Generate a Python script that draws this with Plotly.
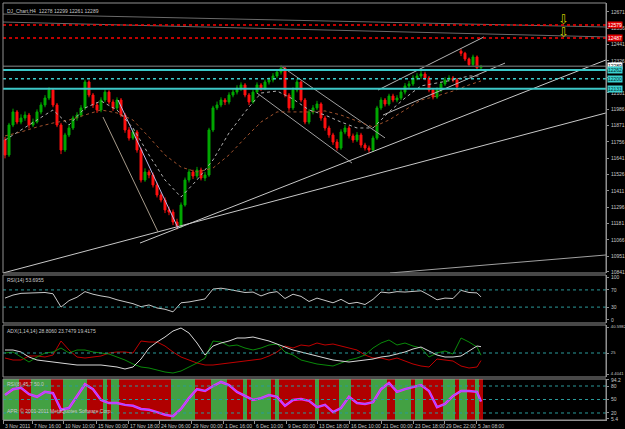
import plotly.graph_objects as go

# ---------------- data ----------------
open_ = [11769, 11664, 11875, 11967, 11896, 11924, 11945, 11875, 11896, 11967,
         12016, 12065, 12121, 12016, 11875, 11699, 11805, 11854, 11924, 11945,
         11995, 12178, 12086, 12016, 11981, 12051, 12107, 12037, 11995, 12051,
         11945, 11840, 11783, 11826, 11699, 11488, 11544, 11523, 11453, 11382,
         11347, 11277, 11262, 11192, 11164, 11312, 11488, 11544, 11516, 11558,
         11502, 11523, 11840, 11995, 12016, 12051, 12037, 12086, 12107, 12135,
         12157, 12086, 12037, 12107, 12157, 12135, 12178, 12192, 12220, 12248,
         12276, 12086, 11995, 12121, 12178, 12051, 11896, 11967, 11995, 12023,
         11924, 11854, 11805, 11755, 11713, 11826, 11854, 11798, 11769, 11805,
         11734, 11713, 11699, 11783, 11995, 12051, 12023, 12079, 12051, 12065,
         12107, 12150, 12164, 12206, 12220, 12234, 12206, 12121, 12072, 12121,
         12164, 12192, 12206, 12192, 12395, 12380, 12340, 12300, 12354, 12278]
high = [11790, 11890, 11990, 11980, 11950, 11970, 11960, 11920, 11985, 12035,
        12085, 12140, 12135, 12030, 11890, 11820, 11875, 11940, 11965, 12015,
        12195, 12190, 12100, 12035, 12070, 12125, 12120, 12055, 12070, 12065,
        11960, 11860, 11845, 11840, 11715, 11570, 11560, 11540, 11470, 11400,
        11365, 11300, 11280, 11215, 11330, 11505, 11565, 11560, 11580, 11575,
        11545, 11855, 12010, 12040, 12070, 12065, 12105, 12125, 12155, 12175,
        12170, 12100, 12125, 12175, 12170, 12195, 12210, 12240, 12265, 12295,
        12290, 12100, 12140, 12200, 12190, 12065, 11985, 12015, 12045, 12035,
        11940, 11870, 11820, 11775, 11845, 11875, 11870, 11815, 11825, 11820,
        11750, 11730, 11800, 12010, 12070, 12065, 12095, 12095, 12085, 12125,
        12170, 12185, 12225, 12240, 12255, 12250, 12220, 12135, 12140, 12180,
        12210, 12225, 12220, 12205, 12410, 12390, 12350, 12370, 12365, 12298]
low = [11640, 11650, 11860, 11880, 11880, 11905, 11850, 11860, 11885, 11950,
       12000, 12050, 12000, 11860, 11670, 11685, 11790, 11840, 11905, 11930,
       11980, 12070, 11995, 11960, 11965, 12035, 12020, 11975, 11980, 11930,
       11820, 11765, 11770, 11680, 11470, 11475, 11500, 11435, 11365, 11330,
       11255, 11240, 11170, 11140, 11150, 11300, 11470, 11495, 11500, 11485,
       11480, 11510, 11825, 11980, 12000, 12015, 12020, 12070, 12090, 12115,
       12070, 12015, 12025, 12095, 12115, 12120, 12160, 12175, 12205, 12230,
       12070, 11975, 11980, 12105, 12035, 11880, 11880, 11950, 11980, 11905,
       11835, 11785, 11735, 11695, 11700, 11810, 11780, 11750, 11755, 11715,
       11695, 11680, 11685, 11770, 11980, 12005, 12010, 12035, 12035, 12050,
       12090, 12135, 12150, 12190, 12200, 12190, 12105, 12055, 12060, 12105,
       12150, 12180, 12175, 12125, 12360, 12325, 12285, 12290, 12265, 12261]
close = [11664, 11875, 11967, 11896, 11924, 11945, 11875, 11896, 11967, 12016,
         12065, 12121, 12016, 11875, 11699, 11805, 11854, 11924, 11945, 11995,
         12178, 12086, 12016, 11981, 12051, 12107, 12037, 11995, 12051, 11945,
         11840, 11783, 11826, 11699, 11488, 11544, 11523, 11453, 11382, 11347,
         11277, 11262, 11192, 11164, 11312, 11488, 11544, 11516, 11558, 11502,
         11523, 11840, 11995, 12016, 12051, 12037, 12086, 12107, 12135, 12157,
         12086, 12037, 12107, 12157, 12135, 12178, 12192, 12220, 12248, 12276,
         12086, 11995, 12121, 12178, 12051, 11896, 11967, 11995, 12023, 11924,
         11854, 11805, 11755, 11713, 11826, 11854, 11798, 11769, 11805, 11734,
         11713, 11699, 11783, 11995, 12051, 12023, 12079, 12051, 12065, 12107,
         12150, 12164, 12206, 12220, 12234, 12206, 12121, 12072, 12121, 12164,
         12192, 12206, 12192, 12143, 12380, 12340, 12300, 12354, 12278, 12289]

# moving averages (read every 4 bars + last bar)
ma_fast = [11769, 11840, 11910, 11981, 11875, 11995, 12044, 11981, 11854, 11664,
           11488, 11368, 11488, 11629, 11819, 11967, 12100, 12114, 12058, 11981,
           11945, 11896, 11854, 11854, 11967, 12065, 12150, 12171, 12192, 12220, 12220]
ma_slow = [11798, 11826, 11861, 11889, 11910, 11945, 11981, 11960, 11910, 11790,
           11664, 11579, 11544, 11572, 11664, 11783, 11896, 11967, 11967, 11967,
           11974, 11945, 11903, 11861, 11910, 11981, 12051, 12079, 12114, 12157, 12185]

# indicators (read every 2 bars + last bar)
rsi = [51, 58, 62, 63, 63, 64, 61, 30, 45, 53, 66, 60, 56, 53, 47, 43, 38, 31, 35, 28,
       25, 19, 40, 42, 46, 49, 72, 74, 71, 67, 64, 65, 56, 63, 66, 50, 60, 55, 43, 51,
       45, 40, 48, 38, 41, 36, 48, 65, 63, 66, 65, 67, 68, 58, 47, 51, 50, 69, 64, 63, 53.7]
adx_main = [26.8, 26.8, 25.6, 22.6, 20.8, 20.2, 19.6, 19.0, 18.4, 17.8,
            17.8, 17.8, 17.8, 17.2, 16.6, 15.4, 16.6, 21.4, 28.0, 31.6,
            34.6, 38.2, 40.0, 37.0, 31.0, 23.8, 29.2, 31.0, 32.2, 34.0,
            34.0, 34.6, 33.4, 32.2, 30.4, 28.6, 26.8, 25.6, 24.4, 23.2,
            22.0, 20.8, 20.2, 19.6, 20.2, 20.8, 21.4, 22.6, 23.2, 24.4,
            25.6, 27.4, 28.6, 26.2, 23.8, 22.6, 22.6, 23.2, 26.2, 29.2, 28.8]
adx_plus = [25.0, 25.6, 22.6, 19.6, 22.6, 25.0, 25.6, 28.0, 25.0, 26.8,
            26.8, 25.6, 25.0, 24.4, 22.6, 20.8, 18.4, 16.6, 16.0, 14.8,
            13.6, 13.0, 14.2, 16.6, 19.0, 22.0, 32.2, 31.6, 29.2, 29.8,
            28.0, 26.8, 28.0, 29.8, 30.4, 25.6, 23.8, 20.8, 19.6, 18.4,
            17.8, 17.2, 19.0, 20.8, 22.0, 23.8, 28.0, 31.0, 32.8, 29.8,
            31.0, 29.2, 28.0, 22.6, 25.0, 26.2, 24.4, 34.0, 31.6, 28.6, 23.7]
adx_minus = [22.0, 20.8, 20.8, 23.2, 23.2, 22.6, 23.8, 32.2, 26.8, 22.6,
             22.0, 22.6, 23.2, 25.0, 25.6, 25.6, 25.0, 32.2, 31.6, 31.6,
             29.2, 25.6, 22.6, 20.8, 19.0, 17.8, 17.8, 18.4, 19.0, 19.6,
             20.2, 20.8, 21.4, 23.2, 25.6, 29.2, 28.0, 29.8, 29.2, 31.0,
             29.8, 30.4, 29.2, 28.0, 26.8, 23.8, 22.0, 22.0, 20.8, 22.0,
             20.2, 18.4, 17.2, 16.6, 21.4, 20.8, 20.2, 17.2, 16.0, 16.6, 20.5]
osc = [60, 73, 76, 62, 56, 67, 64, 27, 31, 58, 84, 73, 49, 42, 42, 38, 36, 29, 27, 22,
       16, 13, 29, 53, 73, 69, 80, 89, 82, 67, 58, 49, 53, 60, 56, 36, 49, 51, 47, 33,
       38, 22, 31, 56, 42, 40, 44, 73, 87, 67, 73, 78, 82, 69, 33, 40, 58, 69, 69, 67, 45.7]
# background state of the oscillator panel per bar (G = green, R = red)
osc_state = ("GGGGRRRGGGGGRRRGGGGGGRRRRGRGG" "RRRRRRRRRRRRR" "GGGGGGRRRRGGGGRRRRGRGGGGGRG"
             "RRRRRRRRRGRRRRRGGGRRRRRGGGGRRGGGGRGGRRRRRGGGRGGRRGR")

# horizontal price levels
level_prices = [12579, 12487, 12289, 12262, 12200, 12131]
level_kind = ["red", "red", "bid", "cyan", "cyandot", "cyan"]

# trend lines (bar index, price)
trend_x0 = [-0.5, 33.75, 96.25, 24.5, 28.25, 69, 63, 93.25, 94.5, -0.5, -0.5]
trend_p0 = [10833, 11044, 10833, 11931, 12051, 12290, 12100, 12121, 11945, 12656, 12600]
trend_x1 = [150.25, 150.25, 150.25, 38.25, 43.25, 95, 86.75, 119.75, 125, 150.25, 150.25]
trend_p1 = [11960, 12333, 10960, 11122, 11150, 11784, 11607, 12495, 12311, 12565, 12495]
trend_col = ["#c8c8c8", "#c8c8c8", "#a0a0a0", "#a89c8c", "#b8b8e8", "#a0a0a0",
             "#a0a0a0", "#b4b4b4", "#b4b4b4", "#6a6a6a", "#6a6a6a"]

arrow_x = [139.5, 139.5]
arrow_p = [12618, 12527]

main_ticks = [12671, 12556, 12441, 12326, 12211, 12101, 11986, 11871, 11756, 11641,
              11526, 11411, 11296, 11181, 11066, 10951, 10841]
main_tick_text = ["12671", "12556", "12441", "12326", "", "12101", "11986", "11871", "11756",
                  "11641", "11526", "11411", "11296", "11181", "11066", "10951", "10841"]
rsi_levels = [70, 30]
adx_levels = [25]
osc_levels = [80, 50, 20]

date_labels = ["3 Nov 2011", "7 Nov 16:00", "10 Nov 10:00", "15 Nov 00:00", "17 Nov 18:00",
               "24 Nov 06:00", "29 Nov 00:00", "1 Dec 16:00", "6 Dec 10:00", "9 Dec 00:00",
               "13 Dec 18:00", "16 Dec 10:00", "21 Dec 00:00", "23 Dec 18:00",
               "29 Dec 22:00", "5 Jan 08:00"]
date_pos = [-0.5, 6.75, 14.5, 22.75, 30.75, 38.5, 46.5, 54.5, 62.25, 70.25, 78, 86, 94,
            102, 109.75, 117.75]

# ---------------- figure ----------------
N = len(close)
bars = list(range(N))
ind_x = list(range(0, N, 2)) + [N - 1]
ma_x = list(range(0, N, 4)) + [N - 1]

W, H = 625, 429
ML, MR, MT, MB = 3, 19, 3, 9
PH = H - MT - MB
FONT = "Liberation Sans"
FS = 5
TXT = "#c8c8c8"


def dom(top_px, bot_px):
    return [(H - MB - bot_px) / PH, (H - MB - top_px) / PH]


d_main, d_rsi, d_adx, d_osc = dom(3, 273), dom(275, 323), dom(325, 377), dom(379, 420)
r_main = [12755 - 7.04 * 273, 12755 - 7.04 * 3]
r_rsi = [-7, 104.7]
r_adx = [10.6, 41.8]
r_osc = [4.4, 95.6]

fig = go.Figure()

# oscillator background bands
green_mask = [s == "G" for s in osc_state]
fig.add_trace(go.Bar(
    x=bars, y=[r_osc[1] - r_osc[0]] * N, base=r_osc[0], width=1.0,
    marker=dict(color=["#0e860e" if g else "#b00000" for g in green_mask],
                line=dict(width=0),
                pattern=dict(shape=["." if g else "" for g in green_mask],
                             fillmode="overlay",
                             fgcolor="#001800", size=2, solidity=0.5)),
    xaxis="x", yaxis="y4", hoverinfo="skip", showlegend=False))

# trend lines
for i in range(len(trend_x0)):
    fig.add_trace(go.Scatter(x=[trend_x0[i], trend_x1[i]], y=[trend_p0[i], trend_p1[i]],
                             mode="lines", line=dict(color=trend_col[i], width=1),
                             yaxis="y", hoverinfo="skip", showlegend=False))

# moving averages
fig.add_trace(go.Scatter(x=ma_x, y=ma_slow, mode="lines", yaxis="y",
                         line=dict(color="#a0522d", width=1, dash="dot"),
                         hoverinfo="skip", showlegend=False))
fig.add_trace(go.Scatter(x=ma_x, y=ma_fast, mode="lines", yaxis="y",
                         line=dict(color="#b0b0b0", width=1, dash="dot"),
                         hoverinfo="skip", showlegend=False))

# candles
fig.add_trace(go.Candlestick(
    x=bars, open=open_, high=high, low=low, close=close, yaxis="y",
    increasing=dict(line=dict(color="#00a800", width=1), fillcolor="#00a800"),
    decreasing=dict(line=dict(color="#ff1010", width=1), fillcolor="#ff1010"),
    whiskerwidth=0, hoverinfo="skip", showlegend=False))

# RSI
fig.add_trace(go.Scatter(x=ind_x, y=rsi, mode="lines", yaxis="y2",
                         line=dict(color="#c8c8c8", width=1), showlegend=False, hoverinfo="skip"))
# ADX
fig.add_trace(go.Scatter(x=ind_x, y=adx_minus, mode="lines", yaxis="y3",
                         line=dict(color="#c00000", width=1), showlegend=False, hoverinfo="skip"))
fig.add_trace(go.Scatter(x=ind_x, y=adx_plus, mode="lines", yaxis="y3",
                         line=dict(color="#0a8a0a", width=1), showlegend=False, hoverinfo="skip"))
fig.add_trace(go.Scatter(x=ind_x, y=adx_main, mode="lines", yaxis="y3",
                         line=dict(color="#d8d8d8", width=1), showlegend=False, hoverinfo="skip"))
# oscillator
fig.add_trace(go.Scatter(x=ind_x, y=osc, mode="lines", yaxis="y4",
                         line=dict(color="#ff20ff", width=2.5), showlegend=False, hoverinfo="skip"))
fig.add_trace(go.Scatter(x=ind_x, y=osc, mode="lines", yaxis="y4",
                         line=dict(color="#7a6cff", width=1), showlegend=False, hoverinfo="skip"))

shapes = []
# level lines in indicator panels
for yax, levels in (("y2", rsi_levels), ("y3", adx_levels), ("y4", osc_levels)):
    for lv in levels:
        shapes.append(dict(type="line", xref="x domain", x0=0, x1=1, yref=yax, y0=lv, y1=lv,
                           line=dict(color="#2a9a9a", width=1, dash="dot"), layer="above"))
# price levels
style = {"red": dict(color="#ff0000", width=1.5, dash="dot"),
         "bid": dict(color="#5a5a5a", width=1.5),
         "cyan": dict(color="#3cc8c8", width=2),
         "cyandot": dict(color="#3cc8c8", width=1.5, dash="dot")}
for p, k in zip(level_prices, level_kind):
    shapes.append(dict(type="line", xref="x domain", x0=0, x1=1, yref="y", y0=p, y1=p,
                       line=style[k]))
# panel frames
for d in (d_main, d_rsi, d_adx, d_osc):
    shapes.append(dict(type="rect", xref="paper", yref="paper", x0=0, x1=1, y0=d[0], y1=d[1],
                       line=dict(color="#909090", width=1), layer="above"))

ann = []
tag_bg = {"red": "#e00000", "bid": "#ffffff", "cyan": "#3cd0d0", "cyandot": "#3cd0d0"}
tag_fg = {"red": "#ffffff", "bid": "#000000", "cyan": "#003030", "cyandot": "#003030"}
for p, k in zip(level_prices, level_kind):
    ann.append(dict(xref="paper", x=1.0, xanchor="left", yref="y", y=p, yanchor="middle",
                    xshift=1, text=str(p), showarrow=False, bgcolor=tag_bg[k], borderpad=0,
                    font=dict(family=FONT, size=FS, color=tag_fg[k])))
for xa, pa in zip(arrow_x, arrow_p):
    ann.append(dict(xref="x", x=xa, yref="y", y=pa, text="⇩", showarrow=False,
                    font=dict(family="DejaVu Sans", size=13, color="#c8c800")))
titles = [("y domain", "DJ_Chart,H4  12278 12299 12261 12289"),
          ("y2 domain", "RSI(14) 53.6955"),
          ("y3 domain", "ADX(1,14,14) 28.8060 23.7479 19.4175"),
          ("y4 domain", "RSI(8) 45.7 50.0")]
for yr, t in titles:
    ann.append(dict(xref="paper", x=0.004, xanchor="left", yref=yr, y=0.99, yanchor="top",
                    text=t, showarrow=False, font=dict(family=FONT, size=FS, color=TXT)))
ann.append(dict(xref="paper", x=0.004, xanchor="left", yref="y4 domain", y=0.22, yanchor="middle",
                text="APR: © 2001-2011 MetaQuotes Software Corp.", showarrow=False,
                font=dict(family=FONT, size=FS, color=TXT)))
for lab, pos in zip(date_labels, date_pos):
    ann.append(dict(xref="x", x=pos, xanchor="left", yref="paper", y=0, yanchor="top",
                    yshift=-1, text=lab, showarrow=False,
                    font=dict(family=FONT, size=FS, color=TXT)))


def yax(domain, rng, tv, tt, fs=FS):
    return dict(domain=domain, range=rng, anchor="x", side="right", showgrid=False,
                zeroline=False, showline=True, linecolor="#909090", ticks="outside",
                ticklen=2, tickcolor="#909090", tickvals=tv, ticktext=tt, automargin=False,
                ticklabelstandoff=1,
                tickfont=dict(family=FONT, size=fs, color=TXT), fixedrange=True)


fig.update_layout(
    width=W, height=H, margin=dict(l=ML, r=MR, t=MT, b=MB, autoexpand=False),
    paper_bgcolor="#000000", plot_bgcolor="#000000", showlegend=False,
    bargap=0, shapes=shapes, annotations=ann,
    xaxis=dict(domain=[0, 1], range=[-0.5, 150.25], anchor="y4", showgrid=False,
               zeroline=False, showticklabels=False, ticks="outside", ticklen=3,
               tickcolor="#909090", tickvals=date_pos, showline=True, linecolor="#909090",
               rangeslider=dict(visible=False), fixedrange=True, automargin=False),
    yaxis=yax(d_main, r_main, main_ticks, main_tick_text),
    yaxis2=yax(d_rsi, r_rsi, [100, 70, 30, 0], ["100", "70", "30", "0"]),
    yaxis3=yax(d_adx, r_adx, [40.6, 25, 12.4], ["40.5982", "25", "4.4041"], fs=4.2),
    yaxis4=yax(d_osc, r_osc, [93.5, 80, 50, 20, 7], ["94.2", "80", "50", "20", "5.4"]),
)

fig.write_html("out.html")
